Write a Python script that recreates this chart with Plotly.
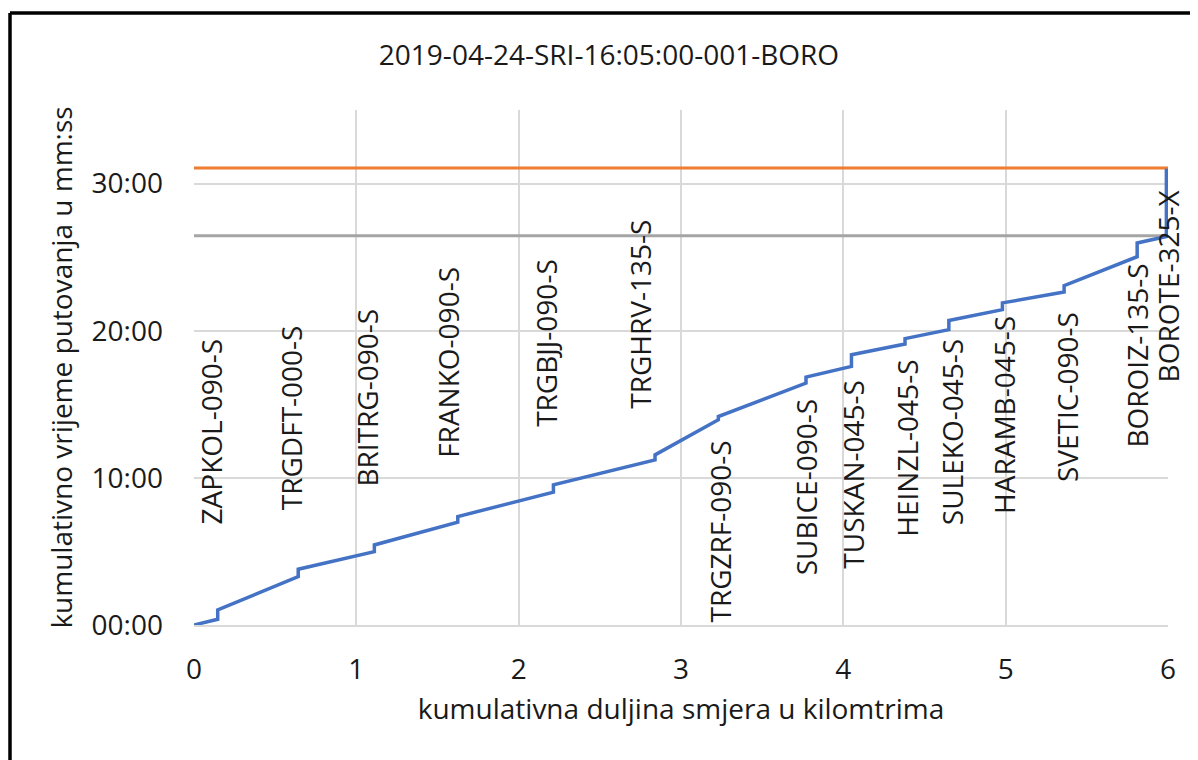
import plotly.graph_objects as go

# stop names along the route
stops = [
    'ZAPKOL-090-S', 'TRGDFT-000-S', 'BRITRG-090-S', 'FRANKO-090-S',
    'TRGBJJ-090-S', 'TRGHRV-135-S', 'TRGZRF-090-S', 'SUBICE-090-S',
    'TUSKAN-045-S', 'HEINZL-045-S', 'SULEKO-045-S', 'HARAMB-045-S',
    'SVETIC-090-S', 'BOROIZ-135-S', 'BOROTE-325-X',
]
# cumulative distance of each stop (km)
stop_km = [0.146, 0.642, 1.111, 1.625, 2.214, 2.84, 3.23, 3.77,
           4.05, 4.38, 4.65, 4.98, 5.36, 5.81, 5.99]
# cumulative travel time on arrival / departure (minutes)
arrive_min = [0.39, 3.29, 4.99, 6.99, 9.03, 11.22, 13.95, 16.44,
              17.57, 19.1, 20.07, 21.43, 22.63, 25.03, 26.4]
depart_min = [1.02, 3.79, 5.44, 7.37, 9.52, 11.56, 14.17, 16.85,
              18.37, 19.46, 20.7, 21.89, 23.06, 25.96, 31.0]
# label series (km, minutes) used for the stop name labels
label_km = [0.105, 0.598, 1.064, 1.565, 2.167, 2.748, 3.241, 3.775,
            4.058, 4.391, 4.669, 4.985, 5.377, 5.808, 6.0]
label_min = [13.16, 14.06, 15.44, 17.82, 19.16, 21.09, 6.36, 9.35,
             10.27, 12.04, 13.1, 14.29, 15.48, 18.3, 23.01]

total_min = 31.05
arrival_last_min = 26.46
route_len_km = 6
y_ticks = [0, 10, 20, 30]

FONT = 'Open Sans'
TXT = '#1a1a1a'
FS = 28

# build the stepped path: travel segment then dwell at each stop
path_x = [0]
path_y = [0]
for km, arr, dep in zip(stop_km, arrive_min, depart_min):
    path_x += [km, km]
    path_y += [arr, dep]

fig = go.Figure()
fig.add_trace(go.Scatter(
    x=[0, route_len_km], y=[total_min, total_min], mode='lines',
    line={'color': '#ED7D31', 'width': 3}, hoverinfo='skip',
))
fig.add_trace(go.Scatter(
    x=[0, route_len_km], y=[arrival_last_min, arrival_last_min], mode='lines',
    line={'color': '#A5A5A5', 'width': 3}, hoverinfo='skip',
))
fig.add_trace(go.Scatter(
    x=path_x, y=path_y, mode='lines',
    line={'color': '#4472C4', 'width': 3.5}, cliponaxis=False,
))

for name, lx, ly in zip(stops, label_km, label_min):
    fig.add_annotation(
        x=lx, y=ly, text=name, textangle=-90, showarrow=False,
        xanchor='center', yanchor='middle',
        font={'family': FONT, 'size': FS, 'color': TXT},
    )

# outer chart frame: only left and top edges are inside the picture
frame_left = (10 - 194) / 974
frame_top = 1 + (110 - 13) / 515
fig.add_shape(
    type='line', xref='paper', yref='paper',
    x0=frame_left, x1=frame_left, y0=-0.6, y1=frame_top,
    line={'color': 'black', 'width': 3.5},
)
fig.add_shape(
    type='line', xref='paper', yref='paper',
    x0=frame_left, x1=1.2, y0=frame_top, y1=frame_top,
    line={'color': 'black', 'width': 3.5},
)

# figure sits 8px in from the page corner, so keep it inside the window
W, H = 1190, 752
fig.update_layout(
    width=W,
    height=H,
    showlegend=False,
    plot_bgcolor='white',
    paper_bgcolor='white',
    margin={'l': 186, 'r': 30, 't': 102, 'b': 135},
    title={
        'text': '2019-04-24-SRI-16:05:00-001-BORO',
        'x': (609 - 8) / W, 'xanchor': 'center', 'xref': 'container',
        'y': 1 - (55 - 8) / H, 'yanchor': 'middle', 'yref': 'container',
        'font': {'family': FONT, 'size': FS, 'color': TXT},
    },
    xaxis={
        'range': [0, route_len_km],
        'dtick': 1,
        'showgrid': True,
        'gridcolor': '#d9d9d9',
        'gridwidth': 2,
        'zeroline': False,
        'showline': True,
        'linecolor': '#d9d9d9',
        'linewidth': 2,
        'ticks': '',
        'ticklabelstandoff': 18,
        'tickfont': {'family': FONT, 'size': FS, 'color': TXT},
        'title': {
            'text': 'kumulativna duljina smjera u kilomtrima',
            'font': {'family': FONT, 'size': FS, 'color': TXT},
            'standoff': 14,
        },
    },
    yaxis={
        'range': [0, 35],
        'tickvals': y_ticks,
        'ticktext': ['%02d:00' % v for v in y_ticks],
        'showgrid': True,
        'gridcolor': '#d9d9d9',
        'gridwidth': 2,
        'zeroline': False,
        'ticks': '',
        'ticklabelstandoff': 30,
        'tickfont': {'family': FONT, 'size': FS, 'color': TXT},
        'title': {
            'text': 'kumulativno vrijeme putovanja u mm:ss',
            'font': {'family': FONT, 'size': FS, 'color': TXT},
            'standoff': 10,
        },
    },
)

fig.write_html('out.html')
